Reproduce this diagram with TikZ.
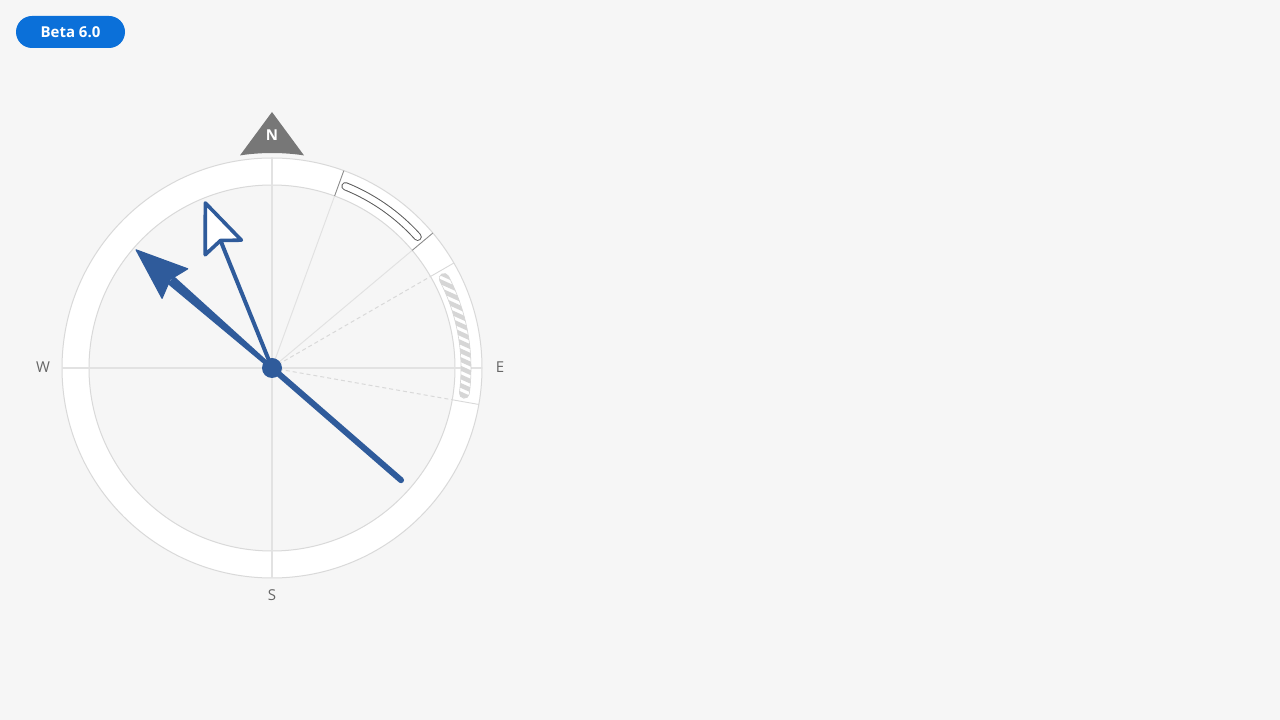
\documentclass[tikz,border=0pt]{standalone}
\usepackage{fontspec}
\setmainfont{Open Sans}
\definecolor{bg}{HTML}{F6F6F6}
\definecolor{badgeblue}{HTML}{0B70D9}
\definecolor{needle}{HTML}{2F5B9B}
\definecolor{ringline}{HTML}{D9D9D9}
\definecolor{crossline}{HTML}{E2E2E2}
\definecolor{ngray}{HTML}{777777}
\definecolor{labelgray}{HTML}{666666}
\definecolor{hatchgray}{HTML}{D6D6D6}
\definecolor{pillgray}{HTML}{5A5A5A}
\tikzset{
  badge/.style={fill=badgeblue, rounded corners=16pt, minimum width=109pt, minimum height=32pt,
    text=white, font=\fontsize{15}{18}\selectfont\bfseries, inner sep=0pt},
  dirlabel/.style={text=labelgray, font=\fontsize{15}{18}\selectfont, inner sep=0pt},
  crossstyle/.style={draw=crossline, line width=1.5pt},
  radialstyle/.style={draw=crossline, line width=1pt},
  dradialstyle/.style={draw=ringline, line width=1pt, dash pattern=on 4pt off 3pt},
  tickdark/.style={draw=black!45, line width=0.9pt},
  ticklight/.style={draw=ringline, line width=0.9pt},
}
\begin{document}
\begin{tikzpicture}[x=1pt,y=1pt]
\useasboundingbox (0,0) rectangle (1280,720);
\fill[bg] (0,0) rectangle (1280,720);
\node[badge] (beta) at (70.5,688) {Beta 6.0};
\begin{scope}[shift={(272,352)}]
  % ring
  \filldraw[fill=white, draw=ringline, line width=1pt] (0,0) circle[radius=210];
  \filldraw[fill=bg, draw=ringline, line width=1pt] (0,0) circle[radius=183];
  % cross lines
  \draw[crossstyle] (-210,0) -- (210,0);
  \draw[crossstyle] (0,-210) -- (0,210);
  % radial lines
  \draw[radialstyle] (0,0) -- (70:183);
  \draw[radialstyle] (0,0) -- (40:183);
  \draw[dradialstyle] (0,0) -- (30:183);
  \draw[dradialstyle] (0,0) -- (-10:183);
  % ticks on ring
  \draw[tickdark] (70:183) -- (70:210);
  \draw[tickdark] (40:183) -- (40:210);
  \draw[ticklight] (30:183) -- (30:210);
  \draw[ticklight] (-10:183) -- (-10:210);
  % outlined pill
  \draw[pillgray, line width=8.2pt, line cap=round] (68:196) arc[start angle=68, end angle=42, radius=196];
  \draw[white, line width=6.2pt, line cap=round] (68:196) arc[start angle=68, end angle=42, radius=196];
  % hatched pill
  \def\hpill{(27.5:199) arc[start angle=27.5,end angle=-7.5,radius=199] arc[start angle=-7.5,end angle=-187.5,radius=5] arc[start angle=-7.5,end angle=27.5,radius=189] arc[start angle=207.5,end angle=27.5,radius=5] -- cycle}
  \begin{scope}
    \clip \hpill;
    \fill[white] (150,-60) rectangle (230,130);
    \foreach \k in {-8,...,20} {
      \draw[hatchgray, line width=4.5pt] (150,\k*8.6) -- ++(80,-36);
    }
  \end{scope}
  \draw[hatchgray, line width=0.6pt] \hpill;
  % hollow arrow
  \begin{scope}[rotate=112]
    \draw[needle, line width=4pt, line cap=round] (0,0) -- (137,0);
    \filldraw[draw=needle, fill=white, line width=3.6pt, line join=round]
      (178,0) -- (130,19.5) -- (137.5,0) -- (130,-19.5) -- cycle;
  \end{scope}
  % filled arrow
  \begin{scope}[rotate=139]
    \draw[needle, line width=6pt, line cap=round] (0,0) -- (-171,0);
    \fill[needle] (0,2.2) -- (134,5) -- (134,-5) -- (0,-2.2) -- cycle;
    \filldraw[needle, line width=1.2pt, line join=round]
      (180,0) -- (128.7,19.5) -- (135,0) -- (128.7,-19.5) -- cycle;
  \end{scope}
  \fill[needle] (0,0) circle[radius=10];
  % north marker
  \fill[ngray] (0,256) -- (98.56:215) arc[start angle=98.56, end angle=81.44, radius=215] -- cycle;
  \node[text=white, font=\fontsize{15}{18}\selectfont\bfseries, inner sep=0pt] (north) at (0,233) {N};
  % direction labels
  \node[dirlabel] (west) at (-229,1) {W};
  \node[dirlabel] (east) at (228,1) {E};
  \node[dirlabel] (south) at (0,-227) {S};
\end{scope}
\end{tikzpicture}
\end{document}
